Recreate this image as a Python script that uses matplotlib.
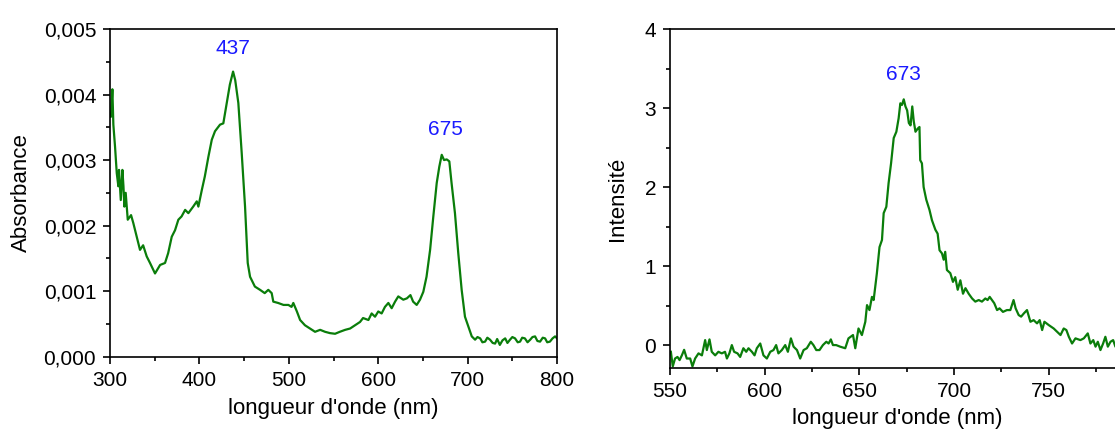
import matplotlib.pyplot as plt
from matplotlib.ticker import MultipleLocator, FixedLocator, FuncFormatter

plt.rcParams['font.family'] = ['Liberation Sans', 'DejaVu Sans']

# absorbance spectrum (left)
abs_nm = [300, 301, 302.6, 303.7, 305.6, 307.5, 309.3, 310, 312, 313.8, 315, 316, 317.5, 319.8,
          323.5, 326, 329.8, 333.5, 337, 341, 344.7, 350.3, 356, 361.5, 365, 369, 372.7, 376.4,
          380, 384, 387.6, 393, 397, 398.8, 402.6, 406, 410, 413.8, 417.4, 423, 426.7, 430.5,
          434, 437.6, 440, 443.5, 447.3, 451, 454, 456.6, 462, 467.8, 473, 477, 480.8, 482.6,
          488, 494, 499.5, 503, 505, 509, 512.6, 518, 523.7, 529.3, 535, 540.5, 546, 551.7,
          557, 563, 568.5, 574, 579.6, 583, 589, 592.6, 596.4, 600, 603.8, 607.5, 611.3, 615,
          618.8, 622.4, 628, 632, 636, 639, 643, 646.7, 650.4, 654, 658, 661.6, 665.4, 668.3,
          671, 673.6, 676.6, 679.5, 682, 685.8, 689.5, 693.3, 697, 700.8, 704.6, 708.3, 711,
          714, 716.5, 719.5, 722, 725, 728, 730.7, 733, 736, 739, 742, 744.5, 747.4, 750,
          753, 756, 758.6, 761, 764, 767, 770, 772.5, 775.4, 778, 781, 784, 786.6, 789,
          792, 795, 797.8, 800]
abs_val = [0.00366, 0.00366, 0.00408, 0.00354, 0.0032, 0.0028, 0.0026, 0.00285, 0.00239, 0.00285,
           0.0026, 0.00229, 0.0025, 0.00209, 0.00216, 0.00204, 0.00183, 0.00163, 0.0017, 0.00153,
           0.00143, 0.00127, 0.0014, 0.00143, 0.00158, 0.00183, 0.00193, 0.00209, 0.00214,
           0.00224, 0.00219, 0.00229, 0.00237, 0.00229, 0.00254, 0.00275, 0.00305, 0.00331,
           0.00344, 0.00354, 0.00356, 0.00387, 0.00415, 0.00435, 0.00422, 0.00387, 0.0031,
           0.00229, 0.00143, 0.00122, 0.00107, 0.00102, 0.00097, 0.00102, 0.00097, 0.00084,
           0.00082, 0.00079, 0.00079, 0.00076, 0.00082, 0.00069, 0.00056, 0.00048, 0.00043,
           0.00038, 0.00041, 0.00038, 0.00036, 0.00035, 0.00038, 0.00041, 0.00043, 0.00048,
           0.00053, 0.00059, 0.00056, 0.00066, 0.00061, 0.00069, 0.00066, 0.00076, 0.00082,
           0.00074, 0.00084, 0.00092, 0.00087, 0.00089, 0.00094, 0.00084, 0.00079, 0.00087,
           0.00099, 0.00122, 0.00163, 0.00214, 0.00265, 0.0029, 0.00308, 0.003, 0.00301,
           0.00298, 0.00265, 0.00219, 0.00158, 0.00102, 0.00061, 0.00046, 0.00031, 0.00026,
           0.00030, 0.00028, 0.00022, 0.00023, 0.00029, 0.00026, 0.00021, 0.0002, 0.00027,
           0.00018, 0.00025, 0.00028, 0.00021, 0.00026, 0.00030, 0.00028, 0.00022, 0.00023,
           0.00029, 0.00028, 0.00022, 0.00026, 0.00030, 0.00031, 0.00024, 0.00023, 0.00029,
           0.00028, 0.00022, 0.00023, 0.00028, 0.00031, 0.00028]

# fluorescence spectrum (right)
fl_nm = [550.4, 551.4, 552.6, 553.9, 555, 556.2, 557.4, 558.8, 560.6, 561.8, 563.2, 565, 566.8,
         568.5, 569.4, 570.8, 572, 573.8, 575.5, 577.3, 579, 580, 581.3, 582.6, 583.8, 585.6,
         587, 588.7, 590.2, 591.4, 593.2, 594.6, 595.8, 597.6, 599.3, 601.1, 602.9, 604.6,
         606, 607.2, 609, 610.8, 612.2, 613.8, 615.2, 617, 618.7, 620.5, 622.2, 624.3, 625.7,
         627.2, 628.9, 630.7, 632.5, 633.7, 634.9, 636, 637.7, 639.8, 642.5, 644.2, 646.6,
         647.8, 649.5, 651.3, 653.1, 654, 655.3, 656.6, 657.5, 659.2, 660.6, 661.9, 662.8,
         664.2, 665.4, 666.7, 668.1, 669.5, 670.7, 671.6, 672.5, 673.4, 674.3, 675.2, 676.1,
         677, 677.9, 678.7, 679.6, 680.8, 681.7, 682.1, 683, 683.9, 685.3, 687, 688.3, 690.1,
         691.3, 692.3, 693.6, 694.5, 695.3, 696.2, 698, 699.4, 700.6, 701.9, 703.3, 704.7,
         706, 707.7, 709.5, 711.2, 713, 714.7, 716.5, 717.7, 718.8, 720, 721.2, 722.7, 724,
         725.8, 727.9, 729.7, 731.4, 732.5, 734.1, 735.4, 736.8, 738.5, 740.3, 742, 743.8,
         745.2, 746.5, 747.7, 750, 752.6, 754.4, 756.2, 757.9, 759.3, 760.6, 762.3, 764.1,
         766.7, 768.5, 770.6, 772, 773.5, 774.7, 775.9, 777.3, 778.7, 779.9, 781.2, 782.6,
         784, 785.2, 787, 790, 793, 797, 800]
fl_val = [-0.085, -0.27, -0.17, -0.15, -0.19, -0.13, -0.06, -0.17, -0.17, -0.27, -0.17, -0.105,
          -0.13, 0.063, -0.063, 0.072, -0.085, -0.13, -0.085, -0.105, -0.085, -0.17, -0.105, 0.0,
          -0.085, -0.105, -0.15, -0.04, -0.085, -0.04, -0.085, -0.13, -0.04, 0.02, -0.13, -0.17,
          -0.085, -0.063, 0.0, -0.105, -0.063, 0.0, -0.085, 0.085, -0.02, -0.063, -0.17, -0.063,
          -0.04, 0.042, 0.0, -0.063, -0.063, 0.0, 0.042, 0.02, 0.072, 0.0, 0.0, -0.02, -0.04,
          0.085, 0.127, -0.04, 0.21, 0.127, 0.295, 0.506, 0.443, 0.61, 0.57, 0.907, 1.24, 1.33,
          1.67, 1.75, 2.05, 2.3, 2.62, 2.7, 2.87, 3.06, 3.04, 3.11, 3.02, 2.97, 2.81, 2.78, 3.02,
          2.83, 2.7, 2.74, 2.76, 2.34, 2.3, 2.0, 1.84, 1.71, 1.58, 1.46, 1.41, 1.2, 1.16, 1.08,
          1.18, 0.95, 0.91, 0.8, 0.86, 0.7, 0.82, 0.65, 0.72, 0.65, 0.59, 0.55, 0.57, 0.55, 0.59,
          0.57, 0.61, 0.57, 0.53, 0.443, 0.465, 0.42, 0.443, 0.443, 0.57, 0.465, 0.38, 0.36,
          0.4, 0.443, 0.295, 0.316, 0.275, 0.316, 0.19, 0.295, 0.253, 0.21, 0.168, 0.127, 0.21,
          0.19, 0.105, 0.02, 0.085, 0.063, 0.085, 0.148, 0.02, 0.063, -0.02, 0.042, -0.063,
          0.02, 0.105, -0.02, 0.042, 0.063, -0.02, 0.03, -0.01, 0.05, 0.0, 0.02]

peaks_left = [437, 675]
peaks_left_y = [0.0047, 0.00346]
peak_right = 673
peak_right_y = 3.43
right_xticks = [550, 600, 650, 700, 750]

green = '#0a7d0a'
blue = '#1a1aff'

fig = plt.figure(figsize=(11.15, 4.29), dpi=100)
ax1 = fig.add_axes([0.0987, 0.1685, 0.4009, 0.764])
ax2 = fig.add_axes([0.601, 0.1422, 0.4245, 0.7902])

ax1.plot(abs_nm, abs_val, color=green, lw=1.6)
ax1.set_xlim(300, 800)
ax1.set_ylim(0, 0.005)
ax1.xaxis.set_major_locator(MultipleLocator(100))
ax1.xaxis.set_minor_locator(MultipleLocator(50))
ax1.yaxis.set_major_locator(MultipleLocator(0.001))
ax1.yaxis.set_minor_locator(MultipleLocator(0.0005))
ax1.yaxis.set_major_formatter(FuncFormatter(lambda v, p: f'{v:.3f}'.replace('.', ',')))
ax1.set_xlabel("longueur d'onde (nm)", fontsize=16, labelpad=6)
ax1.set_ylabel('Absorbance', fontsize=16, labelpad=8)
for nm, y in zip(peaks_left, peaks_left_y):
    ax1.text(nm, y, str(nm), color=blue, fontsize=15, ha='center', va='center')

ax2.plot(fl_nm, fl_val, color=green, lw=1.6)
ax2.set_xlim(550, 800)
ax2.set_ylim(-0.29, 4)
ax2.xaxis.set_major_locator(FixedLocator(right_xticks))
ax2.xaxis.set_minor_locator(MultipleLocator(25))
ax2.yaxis.set_major_locator(MultipleLocator(1))
ax2.yaxis.set_minor_locator(MultipleLocator(0.5))
ax2.set_xlabel("longueur d'onde (nm)", fontsize=16)
ax2.set_ylabel('Intensité', fontsize=16, labelpad=12)
ax2.xaxis.set_label_coords(0.48, -0.118)
ax2.text(peak_right, peak_right_y, str(peak_right), color=blue, fontsize=15,
         ha='center', va='center')

for ax in (ax1, ax2):
    for s in ax.spines.values():
        s.set_linewidth(1.2)
    ax.tick_params(which='major', direction='out', length=5, width=1.2, labelsize=15, pad=5)
    ax.tick_params(which='minor', direction='out', length=3, width=1.2)

fig.savefig('out.png', dpi=100)
